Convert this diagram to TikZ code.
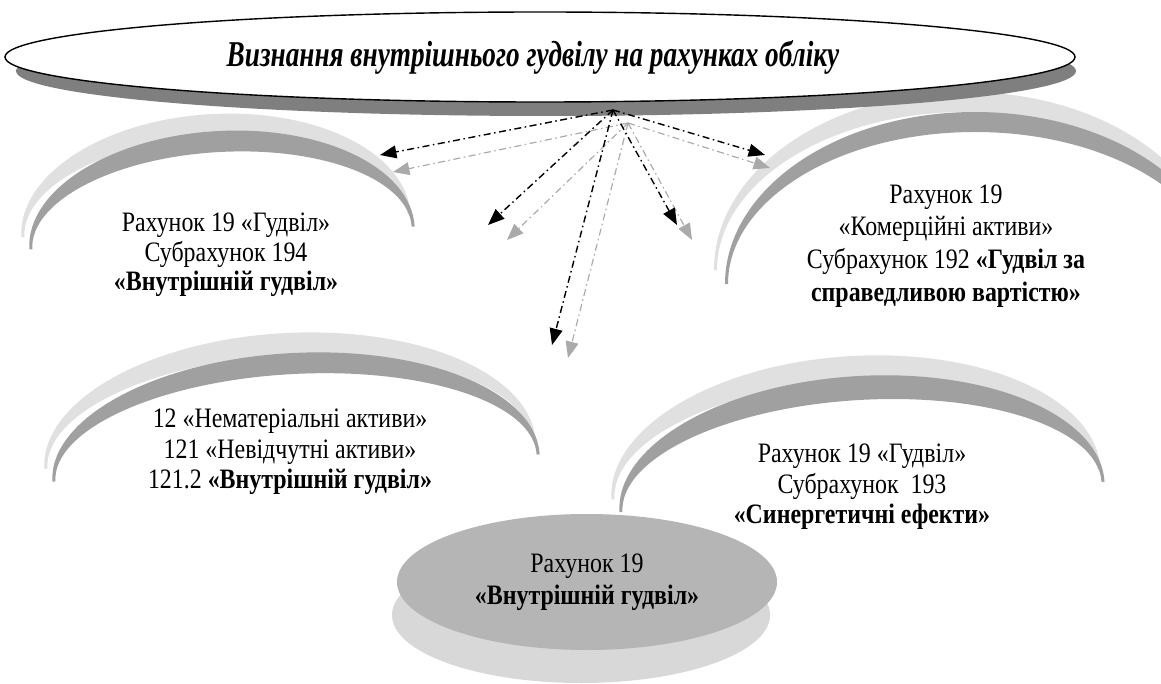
\documentclass[tikz,border=0pt]{standalone}
\usepackage{fontspec}
\setmainfont{Liberation Serif}[FakeStretch=0.85]
\newfontfamily\titlefont{Liberation Serif}[FakeStretch=0.75]
\usetikzlibrary{shapes.geometric,arrows.meta}
\definecolor{shadowdark}{HTML}{7F7F7F}
\definecolor{banddark}{HTML}{A0A0A0}
\definecolor{bandlight}{HTML}{E0E0E0}
\definecolor{ovalfill}{HTML}{B5B5B5}
\definecolor{ovalshadow}{HTML}{D8D8D8}
\definecolor{arrowgray}{HTML}{AAAAAA}
\tikzset{
  darkband/.style={fill=banddark},
  lightband/.style={fill=bandlight},
  boxtext/.style={align=center, inner sep=0pt, font=\fontsize{24}{25}\selectfont},
  blackarrow/.style={line width=1.2pt, dash pattern=on 6pt off 3pt on 1.3pt off 3pt,
    -{Triangle[length=14pt,width=11pt]}},
  grayarrow/.style={line width=1pt, draw=arrowgray, dash pattern=on 6pt off 3pt on 1.3pt off 3pt,
    -{Triangle[length=14pt,width=11pt,fill=arrowgray]}}
}
% #1 style, #2 cx, #3 cy, #4 half width, #5 outer height, #6 inner height, #7 rotation
\newcommand\mycrescent[7]{%
  \begin{scope}[shift={(#2,-#3)},rotate=#7]
    \fill[#1] (-#4,0) arc[start angle=180,end angle=0,x radius=#4,y radius=#5]
      -- ({#4-3},0) arc[start angle=0,end angle=180,x radius={#4-3},y radius=#6] -- cycle;
  \end{scope}}
\begin{document}
\begin{tikzpicture}[x=0.03cm,y=0.03cm]
\useasboundingbox (0,0) rectangle (1161,-684);
\fill[white] (0,0) rectangle (1161,-684);

% crescents
\mycrescent{lightband}{216}{226}{195}{112}{90}{3.4}
\mycrescent{darkband}{222}{238}{193}{107}{86}{3.4}
\mycrescent{lightband}{966}{270}{252}{178}{158}{0}
\mycrescent{darkband}{975}{284}{250}{172}{152}{0}
\mycrescent{lightband}{290}{455}{246}{122}{100}{3.2}
\mycrescent{darkband}{296}{468}{244}{115}{94}{3.2}
\mycrescent{lightband}{856}{484}{245}{128}{104}{3.6}
\mycrescent{darkband}{862}{497}{243}{121}{97}{3.6}

% title
\fill[shadowdark] (546,-71) ellipse[x radius=530, y radius=45];
\node[ellipse, draw, line width=1.2pt, fill=white, inner sep=0pt,
      minimum width=32.1cm, minimum height=2.7cm,
      font=\fontsize{31}{36}\titlefont\bfseries\itshape] (title) at (540,-57)
      {Визнання внутрішнього гудвілу на рахунках обліку\hspace*{12pt}};

% bottom oval
\fill[ovalshadow] (581,-615) ellipse[x radius=189, y radius=68];
\node[ellipse, fill=ovalfill, inner sep=0pt, minimum width=11.4cm, minimum height=4.08cm,
      boxtext, font=\fontsize{24}{27}\selectfont] (acc19) at (587,-582)
      {Рахунок 19\\\textbf{«Внутрішній гудвіл»}};

% texts
\node[boxtext] (acc194) at (226,-255)
  {Рахунок 19 «Гудвіл»\\Субрахунок 194\\\textbf{«Внутрішній гудвіл»}};
\node[boxtext, font=\fontsize{24}{28}\selectfont] (acc192) at (946,-246)
  {Рахунок 19\\«Комерційні активи»\\Субрахунок 192 \textbf{«Гудвіл за}\\\textbf{справедливою вартістю»}};
\node[boxtext, font=\fontsize{24}{26}\selectfont] (acc12) at (290,-452)
  {12 «Нематеріальні активи»\\121 «Невідчутні активи»\\121.2 \textbf{«Внутрішній гудвіл»}};
\node[boxtext, font=\fontsize{24}{26}\selectfont] (acc193) at (862,-487)
  {Рахунок 19 «Гудвіл»\\Субрахунок\ \ 193\\\textbf{«Синергетичні ефекти»}};

% arrows
\coordinate (o1) at (613,-110);
\coordinate (o2) at (628,-123);
\coordinate (t1) at (380,-155);
\coordinate (t2) at (488,-225);
\coordinate (t3) at (552,-345);
\coordinate (t4) at (677,-225);
\coordinate (t5) at (765,-155);
\coordinate (g1) at (393,-172);
\coordinate (g2) at (507,-240);
\coordinate (g3) at (568,-358);
\coordinate (g4) at (692,-240);
\coordinate (g5) at (770,-168);
\foreach \g in {g1,g2,g3,g4,g5} \draw[grayarrow] (o2) -- (\g);
\foreach \t in {t1,t2,t3,t4,t5} \draw[blackarrow] (o1) -- (\t);
\end{tikzpicture}
\end{document}
